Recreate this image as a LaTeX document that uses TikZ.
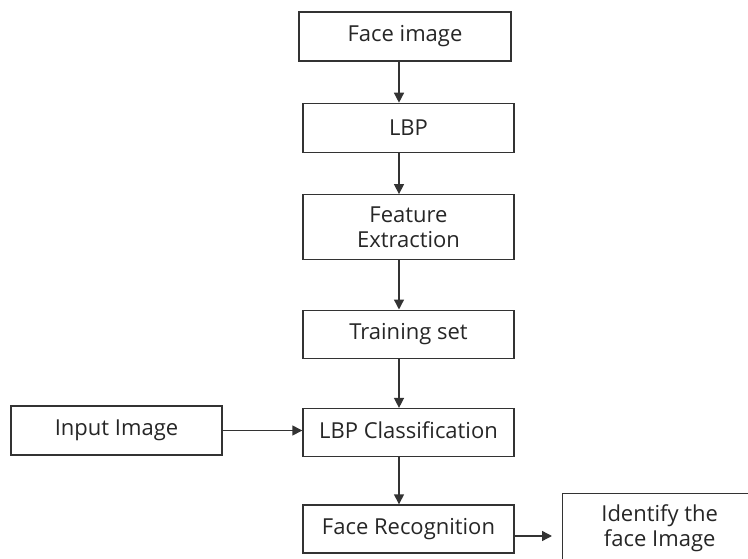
\documentclass[tikz,border=0pt]{standalone}
\usepackage{fontspec}
\setmainfont{Open Sans}
\usepackage{xcolor}
\usetikzlibrary{positioning, arrows.meta}
\definecolor{edgegray}{HTML}{333333}

\begin{document}
\begin{tikzpicture}[
    x=1pt, y=-1pt,
    font=\fontsize{22}{25}\selectfont,
    block/.style={rectangle, draw=edgegray, line width=1.4pt, minimum width=211pt, minimum height=49pt, inner sep=0pt, align=center, text=black!85},
    arrow/.style={-{Triangle[length=10pt, width=10pt]}, line width=1.4pt, draw=edgegray}
]
\clip (0,0) rectangle (748,559);
\useasboundingbox (0,0) rectangle (748,559);

\node[block, minimum width=212pt] (face) at (405,36.5) {\raisebox{3pt}{Face image}};
\node[block, below=41pt of face, xshift=3.5pt] (lbp) {LBP};
\node[block, minimum height=65pt, below=41pt of lbp] (feat) {Feature\\Extraction};
\node[block, minimum height=48pt, below=49pt of feat] (train) {Training set};
\node[block, minimum height=48pt, below=49pt of train] (lbpc) {\raisebox{6pt}{LBP Classification}};
\node[block, minimum height=48pt, below=47pt of lbpc] (frec) {Face Recognition};

\node[block] (input) at (116.5,430.5) {Input Image};
\node[block, minimum width=194pt, minimum height=70pt, anchor=north west] (ident) at (562,493) {Identify the\\face Image};

\coordinate (spine) at (399,0);
\draw[arrow] (face.south -| spine) -- (lbp.north -| spine);
\draw[arrow] (lbp.south -| spine) -- (feat.north -| spine);
\draw[arrow] (feat.south -| spine) -- (train.north -| spine);
\draw[arrow] (train.south -| spine) -- (lbpc.north -| spine);
\draw[arrow] (lbpc.south -| spine) -- (frec.north -| spine);

\draw[arrow] (input.east) -- (input.east -| lbpc.west);
\draw[arrow, shorten >=10pt] ([yshift=-7pt]frec.east) -- ([yshift=-7pt]frec.east -| ident.west);
\end{tikzpicture}
\end{document}
